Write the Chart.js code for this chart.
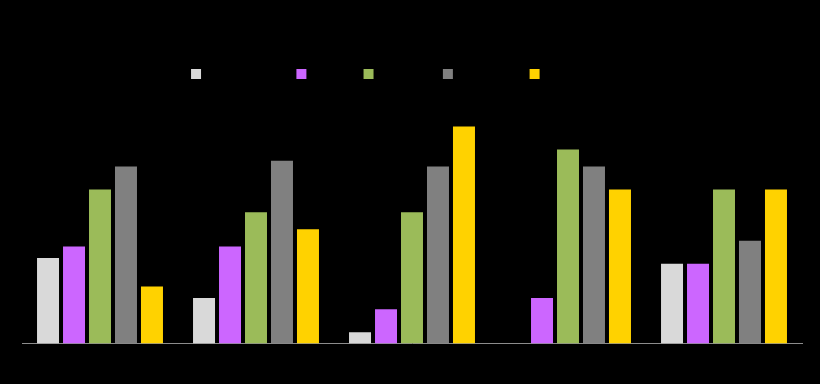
<!DOCTYPE html>
<html>
<head>
<meta charset="utf-8">
<script src="https://cdn.jsdelivr.net/npm/chart.js@4"></script>
<style>
  html, body { margin: 0; padding: 0; background: #000; }
  #wrap { width: 820px; height: 384px; }
</style>
</head>
<body>
<div id="wrap"><canvas id="barChart"></canvas></div>
<script>
// Data
const categories = ['Category 1', 'Category 2', 'Category 3', 'Category 4', 'Category 5'];
const seriesNames = ['Series Name 1', 'Value B', 'Product C', 'Category D', 'Other Segments'];
const seriesColors = ['#D9D9D9', '#CC66FF', '#9BBB59', '#808080', '#FFD200'];
const series1 = [7.5, 4, 1, 0, 7];
const series2 = [8.5, 8.5, 3, 4, 7];
const series3 = [13.5, 11.5, 11.5, 17, 13.5];
const series4 = [15.5, 16, 15.5, 15.5, 9];
const series5 = [5, 10, 19, 13.5, 13.5];
const allSeries = [series1, series2, series3, series4, series5];

const ctx = document.getElementById('barChart').getContext('2d');
const barChart = new Chart(ctx, {
    type: 'bar',
    data: {
        labels: categories,
        datasets: allSeries.map(function (values, i) {
            return {
                label: seriesNames[i],
                data: values,
                backgroundColor: seriesColors[i],
                borderWidth: 0,
                categoryPercentage: 0.833,
                barPercentage: 0.846
            };
        })
    },
    options: {
        responsive: true,
        maintainAspectRatio: false,
        animation: false,
        layout: {
            padding: { top: 58, left: 22, right: 18, bottom: 12 }
        },
        plugins: {
            legend: {
                position: 'top',
                labels: {
                    color: '#000',
                    boxWidth: 10,
                    boxHeight: 10,
                    font: { size: 12, family: 'Liberation Sans' }
                }
            },
            tooltip: { enabled: false }
        },
        scales: {
            x: {
                grid: { display: false },
                border: { display: true, color: '#8C8C8C', width: 1 },
                ticks: { color: '#000', font: { size: 12, family: 'Liberation Sans' } }
            },
            y: {
                display: false,
                min: 0,
                max: 22.2
            }
        }
    }
});
</script>
</body>
</html>
